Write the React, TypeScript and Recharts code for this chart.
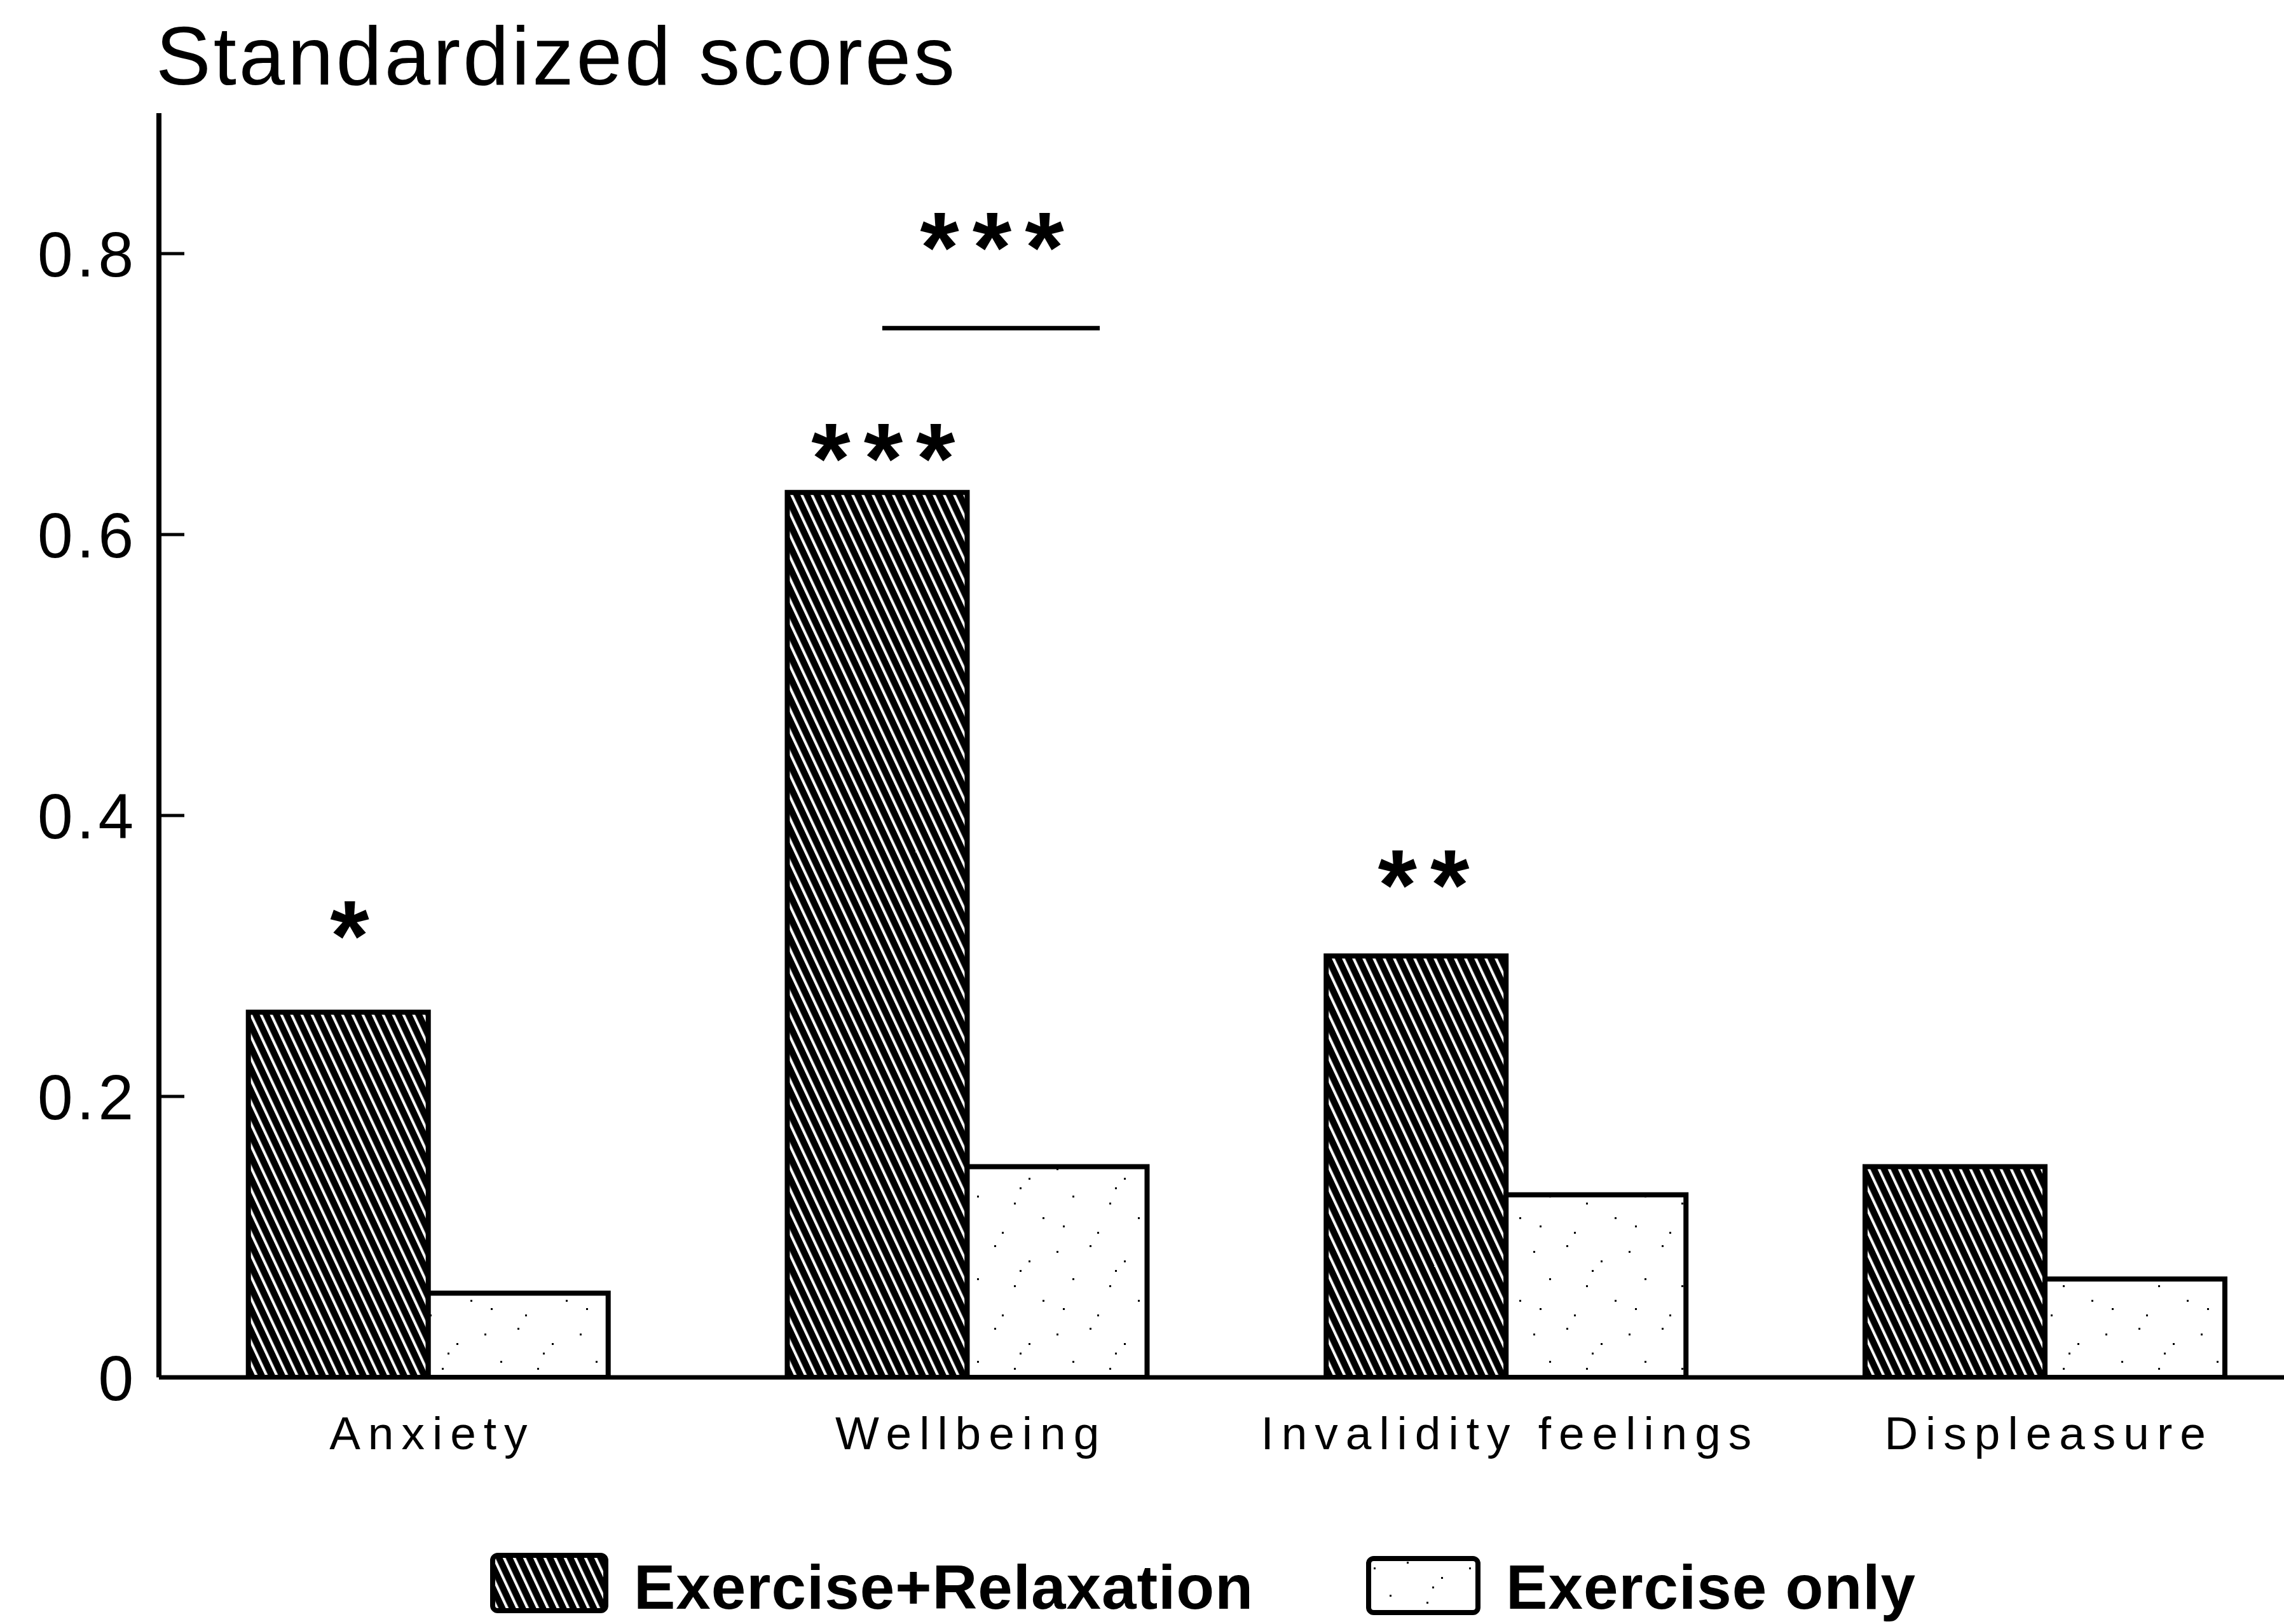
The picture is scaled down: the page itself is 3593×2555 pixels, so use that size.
import { Bar, BarChart, LabelList, Legend, XAxis, YAxis } from "recharts";

const CATEGORIES = ["Anxiety", "Wellbeing", "Invalidity feelings", "Displeasure"];
const EXERCISE_RELAXATION = [0.26, 0.63, 0.3, 0.15];
const EXERCISE_ONLY = [0.06, 0.15, 0.13, 0.07];
const Y_TICKS = [0, 0.2, 0.4, 0.6, 0.8];
const SERIES_NAMES = ["Exercise+Relaxation", "Exercise only"];

// significance marks per category; heights are in score units
const SIG_OVER_BAR = ["*", "***", "**", ""];
const SIG_OVER_BAR_Y = [0.324, 0.664, 0.36, 0];
const SIG_BETWEEN = ["", "***", "", ""];
const SIG_BETWEEN_Y = [0, 0.814, 0, 0];
const BRACKET_Y = [0, 0.747, 0, 0];

// horizontal placement of the marks, in bar widths from the hatched bar's left edge
const STAR_DX = [0.565, 0.535, 0.543, 0];
const PAIR_DX = 1.14;
const BRACKET_DX = [0.528, 1.737];

const FONT = '"Liberation Sans", Arial, sans-serif';

const data = CATEGORIES.map((name, i) => ({
  name,
  exRelax: EXERCISE_RELAXATION[i],
  exOnly: EXERCISE_ONLY[i],
}));

const SWATCH_FILL = ["url(#hatch)", "url(#stipple)"];

function YTick(props: any) {
  const { x, y, payload } = props;
  return (
    <g>
      <line x1={x + 40} x2={x + 80} y1={y} y2={y} stroke="#000" strokeWidth={5} />
      <text
        x={x + 6}
        y={y}
        dy="0.36em"
        textAnchor="end"
        fontSize={100}
        letterSpacing={6}
        fontFamily={FONT}
        fill="#000"
      >
        {payload.value}
      </text>
    </g>
  );
}

function XTick(props: any) {
  const { x, y, payload } = props;
  return (
    <text
      x={x + 6}
      y={y + 52}
      textAnchor="middle"
      fontSize={73}
      letterSpacing={12}
      fontFamily={FONT}
      fill="#000"
    >
      {payload.value}
    </text>
  );
}

function Stars({ cx, cy, text }: { cx: number; cy: number; text: string }) {
  return (
    <text
      x={cx + 10}
      y={cy + 76}
      textAnchor="middle"
      fontSize={158}
      fontWeight={700}
      letterSpacing={21}
      fontFamily={FONT}
      fill="#000"
    >
      {text}
    </text>
  );
}

function SigMarks(props: any) {
  const { x, y, width, height, value, index } = props;
  if (!value) return null;
  const perUnit = height / value;
  const base = y + height;
  return (
    <g>
      {SIG_OVER_BAR[index] && (
        <Stars cx={x + STAR_DX[index] * width} cy={base - SIG_OVER_BAR_Y[index] * perUnit} text={SIG_OVER_BAR[index]} />
      )}
      {SIG_BETWEEN[index] && (
        <g>
          <line
            x1={x + BRACKET_DX[0] * width}
            x2={x + BRACKET_DX[1] * width}
            y1={base - BRACKET_Y[index] * perUnit}
            y2={base - BRACKET_Y[index] * perUnit}
            stroke="#000"
            strokeWidth={7}
          />
          <Stars cx={x + PAIR_DX * width} cy={base - SIG_BETWEEN_Y[index] * perUnit} text={SIG_BETWEEN[index]} />
        </g>
      )}
    </g>
  );
}

function LegendContent(props: any) {
  const payload = [...(props.payload ?? [])].sort(
    (a: any, b: any) => SERIES_NAMES.indexOf(a.value) - SERIES_NAMES.indexOf(b.value),
  );
  return (
    <div style={{ display: "flex", alignItems: "flex-start", paddingLeft: 771, fontFamily: FONT }}>
      {payload.map((entry: any) => {
        const i = SERIES_NAMES.indexOf(entry.value);
        const w = i === 0 ? 186 : 180;
        const h = i === 0 ? 95 : 93;
        return (
          <div key={entry.value} style={{ display: "flex", alignItems: "flex-start", marginRight: i === 0 ? 177 : 0 }}>
            <svg width={w} height={h} style={{ marginTop: i === 0 ? 0 : 5 }}>
              <rect
                x={4}
                y={4}
                width={w - 8}
                height={h - 8}
                rx={8}
                fill={SWATCH_FILL[i]}
                stroke="#000"
                strokeWidth={8}
              />
            </svg>
            <span
              style={{
                marginLeft: i === 0 ? 40 : 40,
                marginTop: 10,
                fontSize: 98,
                lineHeight: "88px",
                fontWeight: 700,
                letterSpacing: 1,
                color: "#000",
                whiteSpace: "nowrap",
              }}
            >
              {entry.value}
            </span>
          </div>
        );
      })}
    </div>
  );
}

export default function App() {
  return (
    <div
      style={{
        position: "absolute",
        left: 0,
        top: 0,
        width: 3593,
        height: 2555,
        overflow: "hidden",
        background: "#fff",
      }}
    >
      <div
        style={{
          position: "absolute",
          left: 245,
          top: 23,
          fontFamily: FONT,
          fontSize: 130,
          lineHeight: "130px",
          letterSpacing: 4,
          color: "#000",
          whiteSpace: "nowrap",
          zIndex: 2,
        }}
      >
        Standardized scores
      </div>
      <BarChart
        width={3700}
        height={2555}
        data={data}
        margin={{ top: 178, right: 59, bottom: 238, left: 100 }}
        barCategoryGap="16.6%"
        barGap={0}
      >
        <defs>
          <pattern id="hatch" patternUnits="userSpaceOnUse" width={14.5} height={40} patternTransform="rotate(-25)">
            <rect width={14.5} height={40} fill="#000" />
            <rect x={0} width={4.2} height={40} fill="#fff" />
          </pattern>
          <pattern id="stipple" patternUnits="userSpaceOnUse" width={150} height={130}>
            <rect width={150} height={130} fill="#fff" />
            <rect x={12} y={18} width={3} height={3} fill="#000" />
            <rect x={64} y={9} width={3} height={3} fill="#000" />
            <rect x={118} y={33} width={3} height={3} fill="#000" />
            <rect x={37} y={61} width={3} height={3} fill="#000" />
            <rect x={95} y={72} width={3} height={3} fill="#000" />
            <rect x={140} y={95} width={3} height={3} fill="#000" />
            <rect x={22} y={108} width={3} height={3} fill="#000" />
            <rect x={76} y={118} width={3} height={3} fill="#000" />
            <rect x={104} y={48} width={3} height={3} fill="#000" />
          </pattern>
        </defs>
        <XAxis
          dataKey="name"
          height={150}
          axisLine={{ stroke: "#000", strokeWidth: 7 }}
          tickLine={false}
          tickSize={0}
          tickMargin={61}
          interval={0}
          tick={<XTick />}
        />
        <YAxis
          width={150}
          domain={[0, 0.9]}
          ticks={Y_TICKS}
          allowDataOverflow
          axisLine={{ stroke: "#000", strokeWidth: 8 }}
          tickLine={false}
          tickSize={0}
          tickMargin={40}
          tick={<YTick />}
        />
        <Legend
          layout="horizontal"
          verticalAlign="middle"
          align="center"
          wrapperStyle={{ left: 0, top: 2443, width: 3593 }}
          content={<LegendContent />}
        />
        <Bar
          dataKey="exRelax"
          name={SERIES_NAMES[0]}
          fill="url(#hatch)"
          stroke="#000"
          strokeWidth={8}
          isAnimationActive={false}
        >
          <LabelList dataKey="exRelax" content={(p: any) => <SigMarks {...p} />} />
        </Bar>
        <Bar
          dataKey="exOnly"
          name={SERIES_NAMES[1]}
          fill="url(#stipple)"
          stroke="#000"
          strokeWidth={8}
          isAnimationActive={false}
        />
      </BarChart>
    </div>
  );
}
